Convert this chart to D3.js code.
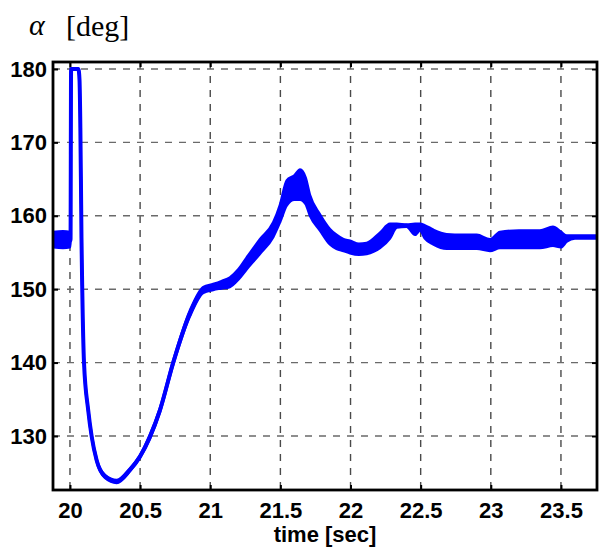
<!DOCTYPE html>
<html><head><meta charset="utf-8">
<script src="https://cdn.jsdelivr.net/npm/d3@7"></script>
<style>html,body{margin:0;padding:0;background:#fff;}svg{display:block;}</style>
</head><body>
<script>
// ---- data ----
const xTicks = [20, 20.5, 21, 21.5, 22, 22.5, 23, 23.5];
const xTickLabels = ["20", "20.5", "21", "21.5", "22", "22.5", "23", "23.5"];
const yTicks = [130, 140, 150, 160, 170, 180];
const yTickLabels = ["130", "140", "150", "160", "170", "180"];
const xLabel = "time [sec]";
const yLabelSymbol = "α";
const yLabelUnit = "[deg]";

// time [sec]
const time = [19.879, 19.95, 20.000, 20.004, 20.008, 20.060, 20.068, 20.074, 20.078, 20.082, 20.088, 20.100,
  20.130, 20.155, 20.190, 20.249, 20.333, 20.428, 20.499, 20.570, 20.641, 20.736, 20.855, 20.950, 21.021,
  21.080, 21.140, 21.200, 21.259, 21.354, 21.449, 21.497, 21.545, 21.600, 21.640, 21.680, 21.711, 21.782,
  21.853, 21.900, 21.950, 21.996, 22.060, 22.115, 22.210, 22.281, 22.330, 22.400, 22.460, 22.495, 22.530,
  22.590, 22.685, 22.800, 22.900, 22.994, 23.065, 23.200, 23.350, 23.443, 23.500, 23.542, 23.600, 23.756];
// lower edge of the (noisy) alpha trace [deg]
const alphaLow = [155.7, 155.6, 155.7, 156.5, 180, 180, 178.5, 172, 165, 157, 149.5, 140,
  133.3, 129.7, 126.5, 124.3, 123.6, 125.2, 127.0, 129.6, 133.2, 139.7, 146.3, 149.5, 149.9,
  150.1, 150.3, 151.3, 152.7, 154.8, 157.1, 159.1, 161.4, 162.2, 162.2, 161.6, 160.0, 158.0,
  156.1, 155.5, 155.2, 154.9, 154.7, 154.8, 155.6, 156.9, 158.4, 158.5, 157.4, 158.0, 156.9,
  156.1, 155.5, 155.5, 155.5, 155.2, 155.6, 155.6, 155.6, 155.9, 155.7, 156.5, 156.9, 156.9];
// upper edge of the (noisy) alpha trace [deg]
const alphaHigh = [157.8, 157.9, 157.8, 156.8, 180, 180, 178.5, 172, 165, 157, 149.5, 140,
  133.7, 130.1, 126.9, 124.7, 124.0, 125.6, 127.4, 130.2, 133.8, 140.3, 147.1, 150.3, 150.7,
  151.1, 151.6, 152.7, 154.3, 156.8, 159.1, 161.5, 164.8, 165.5, 166.3, 165.2, 162.8, 160.2,
  158.2, 157.4, 156.8, 156.6, 156.2, 156.3, 157.7, 158.9, 158.9, 158.8, 158.9, 158.9, 158.7,
  158.1, 157.5, 157.4, 157.4, 156.8, 157.8, 158.0, 158.0, 158.5, 157.8, 157.3, 157.3, 157.3];

// ---- layout ----
const W = 599, H = 547;
const L = 53, R = 597, T = 62, B = 490;

const svg = d3.select("body").append("svg").attr("width", W).attr("height", H);

const x = d3.scaleLinear().domain([19.879, 23.757]).range([L, R]);
const y = d3.scaleLinear().domain([122.64, 180.95]).range([B, T]);

const pts = time.map((t, i) => ({t, lo: alphaLow[i], hi: alphaHigh[i], mid: (alphaLow[i] + alphaHigh[i]) / 2}));

// grid
const grid = svg.append("g");
grid.selectAll("line.v").data(xTicks).join("line")
  .attr("x1", d => x(d)).attr("x2", d => x(d)).attr("y1", T).attr("y2", B)
  .attr("stroke", "#4a4a4a").attr("stroke-width", 1.4).attr("stroke-dasharray", "7,7");
grid.selectAll("line.h").data(yTicks).join("line")
  .attr("y1", d => y(d)).attr("y2", d => y(d)).attr("x1", L).attr("x2", R)
  .attr("stroke", "#6a6a6a").attr("stroke-width", 1.4).attr("stroke-dasharray", "7,7");

// data
svg.append("clipPath").attr("id", "clip").append("rect")
  .attr("x", L).attr("y", T - 3).attr("width", R - L).attr("height", B - T + 3);
const plot = svg.append("g").attr("clip-path", "url(#clip)");
plot.append("path").datum(pts)
  .attr("d", d3.area().curve(d3.curveMonotoneX).x(d => x(d.t)).y0(d => y(d.lo)).y1(d => y(d.hi)))
  .attr("fill", "#0000ff").attr("stroke", "#0000ff").attr("stroke-width", 2.5).attr("stroke-linejoin", "round");
plot.append("path").datum(pts)
  .attr("d", d3.line().curve(d3.curveMonotoneX).x(d => x(d.t)).y(d => y(d.mid)))
  .attr("fill", "none").attr("stroke", "#0000ff").attr("stroke-width", 4).attr("stroke-linejoin", "round");

// axes (box with inside ticks)
const tickFont = "bold 22px 'Liberation Sans', Arial, sans-serif";
const xAxisB = d3.axisBottom(x).tickValues(xTicks).tickFormat((d, i) => xTickLabels[i]).tickSizeInner(-5).tickSizeOuter(0).tickPadding(12);
const xAxisT = d3.axisTop(x).tickValues(xTicks).tickFormat("").tickSizeInner(-5).tickSizeOuter(0);
const yAxisL = d3.axisLeft(y).tickValues(yTicks).tickFormat((d, i) => yTickLabels[i]).tickSizeInner(-5).tickSizeOuter(0).tickPadding(6);
const yAxisR = d3.axisRight(y).tickValues(yTicks).tickFormat("").tickSizeInner(-5).tickSizeOuter(0);

function style(g) {
  g.select(".domain").remove();
  g.selectAll(".tick line").attr("stroke", "#000").attr("stroke-width", 2);
  g.selectAll(".tick text").attr("fill", "#000").style("font", tickFont);
}
svg.append("g").attr("transform", `translate(0,${B})`).call(xAxisB).call(style);
svg.append("g").attr("transform", `translate(0,${T})`).call(xAxisT).call(style);
svg.append("g").attr("transform", `translate(${L},0)`).call(yAxisL).call(style);
svg.append("g").attr("transform", `translate(${R},0)`).call(yAxisR).call(style);

svg.append("rect").attr("x", L).attr("y", T).attr("width", R - L).attr("height", B - T)
  .attr("fill", "none").attr("stroke", "#000").attr("stroke-width", 2.8);

// labels
svg.append("text").attr("x", (L + R) / 2).attr("y", 542).attr("text-anchor", "middle")
  .style("font", "bold 22px 'Liberation Sans', Arial, sans-serif").text(xLabel);
svg.append("text").attr("x", 29).attr("y", 35)
  .style("font", "italic 30px 'Liberation Serif', 'Times New Roman', serif").text(yLabelSymbol);
svg.append("text").attr("x", 66).attr("y", 36)
  .style("font", "30px 'Liberation Serif', 'Times New Roman', serif").text(yLabelUnit);
</script>
</body></html>
